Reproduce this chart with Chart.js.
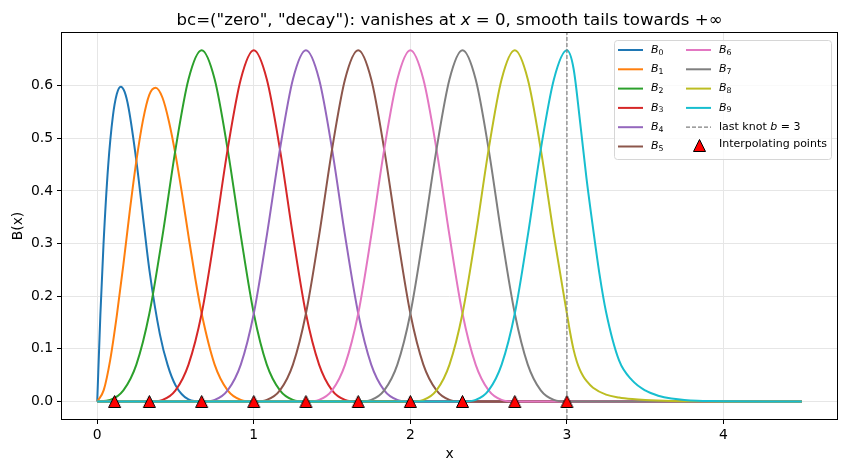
<!DOCTYPE html>
<html>
<head>
<meta charset="utf-8">
<script src="https://cdn.jsdelivr.net/npm/chart.js@4.4.1/dist/chart.umd.min.js"></script>
<style>
  html, body { margin: 0; padding: 0; background: #fff; }
  canvas { display: block; }
</style>
</head>
<body>
<canvas id="chart" width="846" height="472"></canvas>
<script>
// basis functions B_0 .. B_9 (x, B(x))
const b0x = [0, 0.02, 0.04, 0.07, 0.1, 0.125, 0.15, 0.175, 0.2, 0.25, 0.3, 0.333, 0.4, 0.45, 0.5, 0.583, 0.667, 4.5];
const b0y = [0, 0.164, 0.298, 0.448, 0.542, 0.584, 0.598, 0.588, 0.558, 0.457, 0.331, 0.25, 0.128, 0.069, 0.031, 0.004, 0, 0];

const b1x = [0, 0.042, 0.083, 0.125, 0.167, 0.208, 0.25, 0.292, 0.333, 0.373, 0.417, 0.458, 0.5, 0.542, 0.583, 0.625, 0.667, 0.75, 0.833, 0.917, 1.0, 4.5];
const b1y = [0, 0.022, 0.079, 0.163, 0.260, 0.362, 0.457, 0.534, 0.583, 0.596, 0.577, 0.532, 0.469, 0.394, 0.314, 0.236, 0.167, 0.070, 0.021, 0.003, 0, 0];

const b2x = [0, 0.083, 0.167, 0.25, 0.333, 0.417, 0.5, 0.583, 0.667, 0.75, 0.833, 0.917, 1.0, 1.083, 1.167, 1.25, 1.333, 4.5];
const b2y = [0, 0.003, 0.021, 0.070, 0.167, 0.315, 0.479, 0.612, 0.667, 0.612, 0.479, 0.315, 0.167, 0.070, 0.021, 0.003, 0, 0];

const b3x = [0, 0.333, 0.417, 0.5, 0.583, 0.667, 0.75, 0.833, 0.917, 1.0, 1.083, 1.167, 1.25, 1.333, 1.417, 1.5, 1.583, 1.667, 4.5];
const b3y = [0, 0, 0.003, 0.021, 0.070, 0.167, 0.315, 0.479, 0.612, 0.667, 0.612, 0.479, 0.315, 0.167, 0.070, 0.021, 0.003, 0, 0];

const b4x = [0, 0.667, 0.75, 0.833, 0.917, 1.0, 1.083, 1.167, 1.25, 1.333, 1.417, 1.5, 1.583, 1.667, 1.75, 1.833, 1.917, 2.0, 4.5];
const b4y = [0, 0, 0.003, 0.021, 0.070, 0.167, 0.315, 0.479, 0.612, 0.667, 0.612, 0.479, 0.315, 0.167, 0.070, 0.021, 0.003, 0, 0];

const b5x = [0, 1.0, 1.083, 1.167, 1.25, 1.333, 1.417, 1.5, 1.583, 1.667, 1.75, 1.833, 1.917, 2.0, 2.083, 2.167, 2.25, 2.333, 4.5];
const b5y = [0, 0, 0.003, 0.021, 0.070, 0.167, 0.315, 0.479, 0.612, 0.667, 0.612, 0.479, 0.315, 0.167, 0.070, 0.021, 0.003, 0, 0];

const b6x = [0, 1.333, 1.417, 1.5, 1.583, 1.667, 1.75, 1.833, 1.917, 2.0, 2.083, 2.167, 2.25, 2.333, 2.417, 2.5, 2.583, 2.667, 4.5];
const b6y = [0, 0, 0.003, 0.021, 0.070, 0.167, 0.315, 0.479, 0.612, 0.667, 0.612, 0.479, 0.315, 0.167, 0.070, 0.021, 0.003, 0, 0];

const b7x = [0, 1.667, 1.75, 1.833, 1.917, 2.0, 2.083, 2.167, 2.25, 2.333, 2.417, 2.5, 2.583, 2.667, 2.75, 2.833, 2.917, 3.0, 4.5];
const b7y = [0, 0, 0.003, 0.021, 0.070, 0.167, 0.315, 0.479, 0.612, 0.667, 0.612, 0.479, 0.315, 0.167, 0.070, 0.021, 0.003, 0, 0];

const b8x = [0, 2.0, 2.083, 2.167, 2.25, 2.333, 2.417, 2.5, 2.583, 2.667, 2.75, 2.833, 2.917, 3.0, 3.021, 3.042, 3.063, 3.083, 3.104, 3.125, 3.167, 3.25, 3.333, 3.417, 3.5, 3.667, 3.833, 4.0, 4.5];
const b8y = [0, 0, 0.003, 0.021, 0.070, 0.167, 0.315, 0.479, 0.612, 0.667, 0.612, 0.479, 0.315, 0.167, 0.130, 0.099, 0.076, 0.060, 0.048, 0.039, 0.026, 0.013, 0.0075, 0.0045, 0.0028, 0.001, 0.0003, 0, 0];

const b9x = [0, 2.333, 2.417, 2.5, 2.583, 2.667, 2.75, 2.833, 2.917, 3.0, 3.042, 3.083, 3.125, 3.167, 3.208, 3.25, 3.333, 3.417, 3.5, 3.583, 3.667, 3.75, 3.833, 3.917, 4.0, 4.25, 4.5];
const b9y = [0, 0, 0.003, 0.021, 0.070, 0.167, 0.315, 0.479, 0.612, 0.667, 0.633, 0.534, 0.424, 0.329, 0.242, 0.17, 0.078, 0.04, 0.021, 0.011, 0.0055, 0.003, 0.0015, 0.0007, 0.0003, 0, 0];

// interpolating points (red triangles) and the last knot
const pointX = [0.111, 0.333, 0.667, 1.0, 1.333, 1.667, 2.0, 2.333, 2.667, 3.0];
const pointY = [0, 0, 0, 0, 0, 0, 0, 0, 0, 0];
const knotB = 3;

const xTicks = [0, 1, 2, 3, 4];
const yTicks = [0, 0.1, 0.2, 0.3, 0.4, 0.5, 0.6];
const xMin = -0.225, xMax = 4.725;
const yMin = -0.0333, yMax = 0.7;

const basisX = [b0x, b1x, b2x, b3x, b4x, b5x, b6x, b7x, b8x, b9x];
const basisY = [b0y, b1y, b2y, b3y, b4y, b5y, b6y, b7y, b8y, b9y];
const colors = ['#1f77b4', '#ff7f0e', '#2ca02c', '#d62728', '#9467bd', '#8c564b', '#e377c2', '#7f7f7f', '#bcbd22', '#17becf'];
const FONT = '"DejaVu Sans", Verdana, sans-serif';

// matplotlib-style '^' marker: centred on its box, not on its centroid
function triangleMarker(size) {
    const c = document.createElement('canvas');
    c.width = size + 3;
    c.height = size + 3;
    const g = c.getContext('2d');
    const m = 1.5;
    g.beginPath();
    g.moveTo(m + size / 2, m);
    g.lineTo(m + size, m + size);
    g.lineTo(m, m + size);
    g.closePath();
    g.fillStyle = '#ff0000';
    g.fill();
    g.strokeStyle = '#000';
    g.lineWidth = 1;
    g.lineJoin = 'miter';
    g.stroke();
    return c;
}
const marker = triangleMarker(12);

const datasets = basisY.map((ys, i) => ({
    label: 'B_' + i,
    data: ys.map((y, j) => ({ x: basisX[i][j], y: y })),
    borderColor: colors[i],
    backgroundColor: colors[i],
    borderWidth: 2,
    pointRadius: 0,
    cubicInterpolationMode: 'monotone',
    fill: false,
    order: 12 - i
}));
datasets.push({
    label: 'last knot',
    data: [{ x: knotB, y: yMin }, { x: knotB, y: yMax }],
    borderColor: '#808080',
    borderWidth: 1.2,
    borderDash: [4, 2],
    pointRadius: 0,
    order: 1
});
datasets.push({
    label: 'Interpolating points',
    data: pointX.map((x, i) => ({ x: x, y: pointY[i] })),
    showLine: false,
    pointStyle: marker,
    pointRadius: 7,
    order: 0
});

// draws text pieces one after another, [text, italic?, size, dy]
function drawPieces(ctx, pieces, x, y) {
    pieces.forEach(p => {
        ctx.font = (p[1] ? 'italic ' : '') + p[2] + 'px ' + FONT;
        ctx.fillText(p[0], x, y + (p[3] || 0));
        x += ctx.measureText(p[0]).width;
    });
}
function piecesWidth(ctx, pieces) {
    let w = 0;
    pieces.forEach(p => {
        ctx.font = (p[1] ? 'italic ' : '') + p[2] + 'px ' + FONT;
        w += ctx.measureText(p[0]).width;
    });
    return w;
}

const decorations = {
    id: 'decorations',
    afterDraw(chart) {
        const ctx = chart.ctx;
        const a = chart.chartArea;
        ctx.save();
        // frame
        ctx.strokeStyle = '#000';
        ctx.lineWidth = 1;
        ctx.strokeRect(Math.round(a.left) - 0.5, Math.round(a.top) - 0.5, Math.round(a.right - a.left) + 1, Math.round(a.bottom - a.top) + 1);

        // title
        const ts = 16.6;
        const title = [['bc=("zero", "decay"): vanishes at ', false, ts], ['x', true, ts], [' = 0, smooth tails towards +∞', false, ts]];
        ctx.fillStyle = '#000';
        ctx.textBaseline = 'alphabetic';
        const tw = piecesWidth(ctx, title);
        drawPieces(ctx, title, (a.left + a.right) / 2 - tw / 2, 25);

        // legend, two columns
        const bw = 217, bh = 119;
        const bx = a.right - 6 - bw, by = a.top + 7;
        ctx.beginPath();
        ctx.roundRect(bx + 0.5, by + 0.5, bw, bh, 3);
        ctx.fillStyle = 'rgba(255,255,255,0.8)';
        ctx.fill();
        ctx.strokeStyle = '#d6d6d6';
        ctx.stroke();

        const rowH = 19.3;
        const fs = 11;
        const items = chart.data.datasets;
        items.forEach((ds, i) => {
            const col = i < 6 ? 0 : 1;
            const row = i < 6 ? i : i - 6;
            const cy = by + 10 + row * rowH;
            const lx = bx + 4 + col * 68;
            ctx.textBaseline = 'middle';
            ctx.fillStyle = '#000';
            if (ds.showLine === false) {
                ctx.drawImage(marker, Math.round(lx + 13 - marker.width / 2), Math.round(cy - 1 - marker.height / 2));
                drawPieces(ctx, [[ds.label, false, fs]], lx + 33, cy - 2);
                return;
            }
            ctx.beginPath();
            ctx.moveTo(lx, cy);
            ctx.lineTo(lx + 25, cy);
            ctx.strokeStyle = ds.borderColor;
            ctx.lineWidth = ds.borderWidth;
            ctx.setLineDash(ds.borderDash || []);
            ctx.stroke();
            ctx.setLineDash([]);
            if (ds.label.startsWith('B_')) {
                drawPieces(ctx, [['B', true, fs], [ds.label.slice(2), false, 7.8, 2.5]], lx + 33, cy);
            } else {
                drawPieces(ctx, [['last knot ', false, fs], ['b', true, fs], [' = ' + knotB, false, fs]], lx + 33, cy);
            }
        });
        ctx.restore();
    }
};

const axisFont = { family: FONT, size: 13.9 };

new Chart(document.getElementById('chart'), {
    type: 'line',
    data: { datasets: datasets },
    options: {
        responsive: false,
        devicePixelRatio: 1,
        animation: false,
        events: [],
        layout: { padding: { top: 33, right: 9, left: 0, bottom: 0 } },
        plugins: {
            legend: { display: false },
            title: { display: false },
            tooltip: { enabled: false }
        },
        scales: {
            x: {
                type: 'linear',
                min: xMin,
                max: xMax,
                afterBuildTicks: axis => { axis.ticks = xTicks.map(v => ({ value: v })); },
                afterFit: axis => { axis.height = 53; },
                border: { display: false },
                grid: { color: '#e6e6e6', lineWidth: 1, tickColor: '#000', tickLength: 5, tickWidth: 1 },
                ticks: { font: axisFont, color: '#000', padding: 3, maxRotation: 0, callback: v => String(v) },
                title: { display: true, text: 'x', font: axisFont, color: '#000', padding: { top: 0, bottom: 9 } }
            },
            y: {
                type: 'linear',
                min: yMin,
                max: yMax,
                afterBuildTicks: axis => { axis.ticks = yTicks.map(v => ({ value: v })); },
                afterFit: axis => { axis.width = 62; },
                border: { display: false },
                grid: { color: '#e6e6e6', lineWidth: 1, tickColor: '#000', tickLength: 5, tickWidth: 1 },
                ticks: { font: axisFont, color: '#000', padding: 4, callback: v => v.toFixed(1) },
                title: { display: true, text: 'B(x)', font: axisFont, color: '#000', padding: { top: 10, bottom: 0 } }
            }
        }
    },
    plugins: [decorations]
});
</script>
</body>
</html>
